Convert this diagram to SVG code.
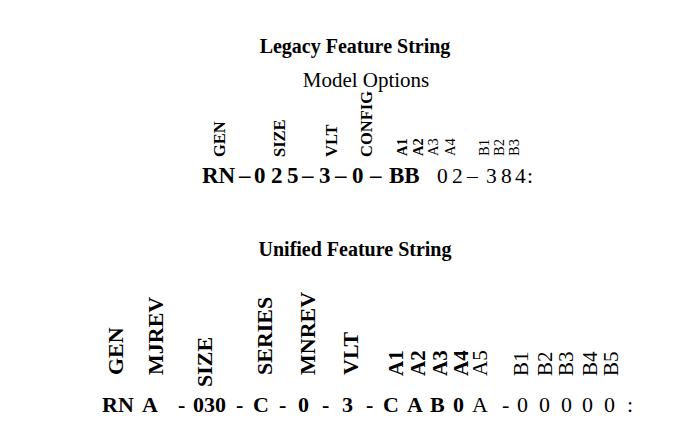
<svg xmlns="http://www.w3.org/2000/svg" width="688" height="428" viewBox="0 0 688 428">
<style>
text{font-family:"Liberation Serif","Times New Roman",serif;fill:#000}
.t{font-size:20px;font-weight:bold;text-anchor:middle}
.sub{font-size:21px;text-anchor:middle}
.main{font-size:22px}
.main23{font-size:23px}
.b{font-weight:bold}
.r{font-weight:normal}
.r21{font-weight:normal;font-size:21.5px}
.l16{font-size:16.5px;font-weight:bold}
.l12b{font-size:14.5px;font-weight:bold}
.l12{font-size:14.5px}
.l22b{font-size:22px;font-weight:bold}
.l21b{font-size:21px;font-weight:bold}
.l21{font-size:21px}
</style>
<rect width="688" height="428" fill="#fff"/>
<g id="legacy">
<text id="legacy-title" class="t" x="355" y="53">Legacy Feature String</text>
<text id="model-options" class="sub" x="366" y="87">Model Options</text>
<g id="legacy-labels">
<text class="l16" transform="translate(225,157) rotate(-90)">GEN</text>
<text class="l16" transform="translate(285,157) rotate(-90)">SIZE</text>
<text class="l16" transform="translate(337,157) rotate(-90)">VLT</text>
<text class="l16" transform="translate(372,157) rotate(-90)">CONFIG</text>
<text class="l12b" transform="translate(407,156) rotate(-90)">A1</text>
<text class="l12b" transform="translate(423,156) rotate(-90)">A2</text>
<text class="l12" transform="translate(438,156) rotate(-90)">A3</text>
<text class="l12" transform="translate(455,156) rotate(-90)">A4</text>
<text class="l12" transform="translate(489,156) rotate(-90)">B1</text>
<text class="l12" transform="translate(504,156) rotate(-90)">B2</text>
<text class="l12" transform="translate(519,156) rotate(-90)">B3</text>
</g>
<text id="legacy-string" class="main23" y="183"><tspan class="b" x="202">RN</tspan><tspan class="b" x="239">–</tspan><tspan class="b" x="254">0</tspan><tspan class="b" x="271">2</tspan><tspan class="b" x="287">5</tspan><tspan class="b" x="302">–</tspan><tspan class="b" x="319">3</tspan><tspan class="b" x="335">–</tspan><tspan class="b" x="352">0</tspan><tspan class="b" x="370">–</tspan><tspan class="b" x="389">BB</tspan><tspan class="r21" x="437">0</tspan><tspan class="r21" x="452">2</tspan><tspan class="r21" x="467">–</tspan><tspan class="r21" x="486">3</tspan><tspan class="r21" x="501">8</tspan><tspan class="r21" x="515">4</tspan><tspan class="r21" x="527">:</tspan></text>
</g>
<g id="unified">
<text id="unified-title" class="t" x="355" y="256">Unified Feature String</text>
<g id="unified-labels">
<text class="l22b" transform="translate(123,375) rotate(-90)">GEN</text>
<text class="l22b" transform="translate(163,375) rotate(-90)">MJREV</text>
<text class="l22b" transform="translate(212,387) rotate(-90)">SIZE</text>
<text class="l22b" transform="translate(272,375) rotate(-90)">SERIES</text>
<text class="l22b" transform="translate(315,375) rotate(-90)">MNREV</text>
<text class="l22b" transform="translate(358,375) rotate(-90)">VLT</text>
<text class="l21b" transform="translate(403,376) rotate(-90)">A1</text>
<text class="l21b" transform="translate(425,376) rotate(-90)">A2</text>
<text class="l21b" transform="translate(447,376) rotate(-90)">A3</text>
<text class="l21b" transform="translate(468,376) rotate(-90)">A4</text>
<text class="l21" transform="translate(487,376) rotate(-90)">A5</text>
<text class="l21" transform="translate(528,376) rotate(-90)">B1</text>
<text class="l21" transform="translate(552,376) rotate(-90)">B2</text>
<text class="l21" transform="translate(573,376) rotate(-90)">B3</text>
<text class="l21" transform="translate(597,376) rotate(-90)">B4</text>
<text class="l21" transform="translate(618,376) rotate(-90)">B5</text>
</g>
<text id="unified-string" class="main" y="412"><tspan class="b" x="102">RN</tspan><tspan class="b" x="142">A</tspan><tspan class="b" x="178">-</tspan><tspan class="b" x="193">030</tspan><tspan class="b" x="236">-</tspan><tspan class="b" x="253">C</tspan><tspan class="b" x="279">-</tspan><tspan class="b" x="298">0</tspan><tspan class="b" x="322">-</tspan><tspan class="b" x="342">3</tspan><tspan class="b" x="366">-</tspan><tspan class="b" x="383">C</tspan><tspan class="b" x="407">A</tspan><tspan class="b" x="430">B</tspan><tspan class="b" x="453">0</tspan><tspan class="r" x="472">A</tspan><tspan class="r" x="502">-</tspan><tspan class="r" x="517">0</tspan><tspan class="r" x="539">0</tspan><tspan class="r" x="561">0</tspan><tspan class="r" x="582">0</tspan><tspan class="r" x="604">0</tspan><tspan class="r" x="627">:</tspan></text>
</g>
</svg>
